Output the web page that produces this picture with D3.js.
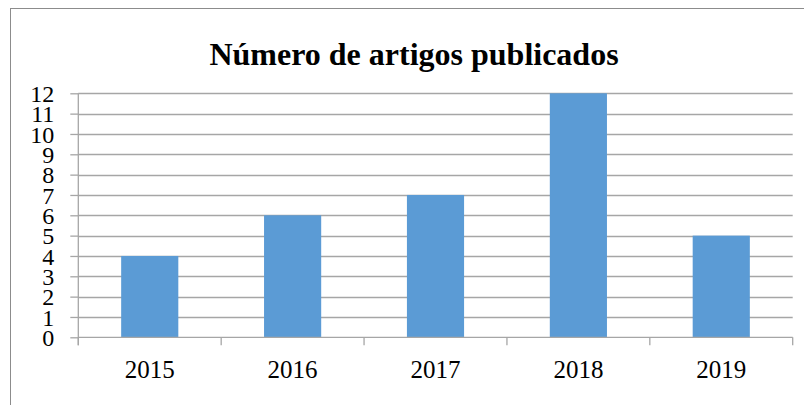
<!DOCTYPE html>
<html>
<head>
<meta charset="utf-8">
<script src="https://cdn.jsdelivr.net/npm/d3@7"></script>
<style>
html,body{margin:0;padding:0;background:#fff;}
svg{display:block;}
</style>
</head>
<body>
<script>
const title = "Número de artigos publicados";
const categories = ["2015","2016","2017","2018","2019"];
const values = [4, 6, 7, 12, 5];
const yTicks = [0,1,2,3,4,5,6,7,8,9,10,11,12];

(function () {
const W = 804, H = 405;
const svg = d3.select("body").append("svg").attr("width", W).attr("height", H);

// outer chart frame (extends past right/bottom edges)
svg.append("rect").attr("x", 10.5).attr("y", 8.5).attr("width", 820).attr("height", 420)
  .attr("fill", "#fff").attr("stroke", "#8c8c8c").attr("stroke-width", 1);

const pL = 78.3, pR = 792.7, pT = 93.3, pB = 337.3;
const x = d3.scaleBand().domain(categories).range([pL, pR]).paddingInner(0.6).paddingOuter(0.3);
const xb = d3.scaleBand().domain(categories).range([pL, pR]);
const y = d3.scaleLinear().domain([0, 12]).range([pB, pT]);

// gridlines
svg.append("g").selectAll("line").data(yTicks.filter(d => d > 0)).join("line")
  .attr("x1", pL).attr("x2", pR)
  .attr("y1", d => Math.round(y(d)) + 0.5).attr("y2", d => Math.round(y(d)) + 0.5)
  .attr("stroke", "#a6a6a6").attr("stroke-width", 1.3);

// bars
svg.append("g").selectAll("rect").data(categories).join("rect")
  .attr("x", d => x(d)).attr("width", x.bandwidth())
  .attr("y", (d, i) => y(values[i])).attr("height", (d, i) => y(0) - y(values[i]))
  .attr("fill", "#5b9bd5");

// y axis
const yAxis = d3.axisLeft(y).tickValues(yTicks).tickSize(8).tickPadding(16).tickFormat(d3.format("d"));
const gy = svg.append("g").attr("transform", `translate(${pL},0)`).call(yAxis);
gy.select(".domain").attr("stroke", "#a6a6a6").attr("stroke-width", 1.3).attr("d", `M0,${pT}V${pB + 8}`);
gy.selectAll(".tick line").attr("stroke", "#a6a6a6").attr("stroke-width", 1.3);
gy.selectAll(".tick text").attr("font-family", "'Liberation Serif', 'Times New Roman', serif")
  .attr("font-size", 24).attr("fill", "#000").attr("dy", "0.34em");

// x axis
const gx = svg.append("g").attr("transform", `translate(0,${pB})`);
gx.append("line").attr("x1", pL).attr("x2", pR).attr("y1", 0).attr("y2", 0)
  .attr("stroke", "#a6a6a6").attr("stroke-width", 1.3);
const bounds = categories.map(c => xb(c)).concat([pR]);
gx.selectAll("line.tk").data(bounds).join("line").attr("class", "tk")
  .attr("x1", d => d).attr("x2", d => d).attr("y1", 0).attr("y2", 8)
  .attr("stroke", "#a6a6a6").attr("stroke-width", 1.3);
gx.selectAll("text").data(categories).join("text")
  .attr("x", d => xb(d) + xb.bandwidth() / 2).attr("y", 41)
  .attr("text-anchor", "middle")
  .attr("font-family", "'Liberation Serif', 'Times New Roman', serif")
  .attr("font-size", 25).attr("fill", "#000").text(d => d);

// title
svg.append("text").attr("x", 414).attr("y", 65).attr("text-anchor", "middle")
  .attr("font-family", "'Liberation Serif', 'Times New Roman', serif")
  .attr("font-weight", "bold").attr("font-size", 32).attr("fill", "#000").text(title);
})();
</script>
</body>
</html>
